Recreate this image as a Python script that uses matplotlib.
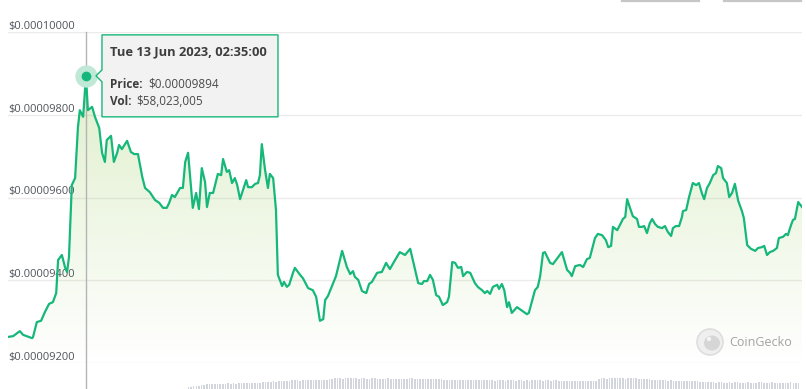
import numpy as np
import matplotlib.pyplot as plt
from matplotlib.patches import Polygon, Circle, Ellipse

# hours since the first sample (one week shown)
hours = [0.0, 1.1, 2.5, 3.2, 5.1, 5.3, 6.1, 7.0, 7.8, 8.7, 9.5, 10.2, 10.6, 11.4, 12.1, 12.5,
         12.9, 13.5, 14.2, 14.8, 15.2, 15.9, 16.5, 16.9, 17.8, 18.4, 19.3, 19.9, 20.5, 20.9,
         21.8, 22.4, 23.1, 23.5, 24.1, 25.2, 26.0, 26.7, 27.5, 28.4, 29.0, 30.0, 31.1, 32.0,
         32.8, 33.6, 34.1, 34.7, 35.3, 36.4, 37.0, 37.5, 38.1, 39.1, 39.8, 40.4, 41.0, 41.7,
         42.1, 42.7, 43.4, 44.4, 45.1, 45.5, 46.3, 46.8, 47.4, 48.0, 48.5, 49.1, 50.4, 50.8,
         51.6, 52.3, 52.9, 53.3, 53.7, 54.4, 55.0, 55.4, 56.1, 56.7, 57.1, 58.0, 58.4, 59.0,
         59.5, 60.3, 60.7, 61.8, 62.4, 63.5, 64.5, 65.2, 66.0, 66.7, 67.1, 67.7, 68.8, 69.4,
         70.7, 71.7, 72.4, 73.0, 73.4, 74.1, 74.9, 75.8, 76.4, 77.0, 78.1, 79.1, 80.0, 80.8,
         81.9, 82.9, 84.0, 85.1, 86.8, 87.6, 88.0, 88.7, 89.3, 89.9, 90.6, 91.2, 92.0, 92.9,
         93.3, 94.0, 94.6, 95.2, 95.9, 96.3, 97.1, 97.8, 98.8, 99.4, 100.3, 100.9, 101.4, 102.0,
         102.6, 103.5, 103.9, 104.5, 105.0, 105.6, 106.0, 106.6, 107.7, 109.8, 110.2, 111.5,
         112.1, 112.6, 113.2, 113.6, 114.7, 115.3, 117.2, 118.3, 118.9, 119.3, 120.0, 121.0,
         121.7, 122.5, 123.1, 124.2, 124.8, 125.7, 126.5, 127.0, 127.6, 128.0, 128.9, 129.5,
         130.1, 130.6, 131.0, 131.6, 132.2, 133.1, 133.5, 134.1, 134.6, 135.2, 135.8, 136.3,
         136.9, 137.5, 138.4, 139.0, 139.6, 140.3, 140.7, 141.3, 142.0, 142.6, 142.8, 143.5,
         144.1, 144.9, 145.6, 146.2, 146.8, 147.3, 147.9, 148.5, 149.2, 149.8, 150.2, 150.9,
         151.3, 152.1, 152.6, 153.2, 153.8, 154.5, 155.3, 155.7, 156.4, 157.2, 158.1, 158.7,
         159.5, 160.0, 160.6, 161.2, 161.9, 162.7, 163.1, 164.0, 164.6, 165.0, 165.7, 166.1,
         166.5, 167.2, 168.0]

# price in units of 1e-8 USD
price_e8 = [9263, 9265, 9277, 9268, 9260, 9263, 9299, 9302, 9323, 9343, 9347, 9369, 9449, 9461,
            9430, 9420, 9456, 9630, 9647, 9770, 9811, 9795, 9894, 9811, 9819, 9795, 9768, 9708,
            9686, 9739, 9749, 9686, 9708, 9727, 9717, 9737, 9710, 9705, 9705, 9650, 9623, 9613,
            9594, 9587, 9575, 9575, 9587, 9606, 9601, 9623, 9623, 9686, 9708, 9575, 9611, 9572,
            9671, 9637, 9577, 9611, 9611, 9657, 9654, 9693, 9662, 9666, 9635, 9647, 9630, 9596,
            9642, 9625, 9625, 9633, 9635, 9654, 9729, 9666, 9623, 9657, 9647, 9570, 9413, 9386,
            9396, 9384, 9389, 9418, 9430, 9413, 9405, 9381, 9376, 9360, 9302, 9306, 9352, 9362,
            9393, 9410, 9471, 9432, 9415, 9422, 9408, 9401, 9374, 9369, 9391, 9396, 9418, 9420,
            9442, 9427, 9449, 9468, 9461, 9476, 9393, 9391, 9398, 9398, 9413, 9401, 9364, 9360,
            9340, 9347, 9360, 9444, 9442, 9430, 9432, 9410, 9420, 9418, 9393, 9384, 9376, 9369,
            9374, 9367, 9384, 9389, 9379, 9391, 9376, 9335, 9347, 9321, 9335, 9318, 9321, 9376,
            9384, 9410, 9466, 9468, 9442, 9439, 9468, 9425, 9418, 9410, 9434, 9437, 9432, 9451,
            9454, 9502, 9512, 9509, 9497, 9480, 9483, 9529, 9521, 9534, 9548, 9553, 9596, 9575,
            9555, 9548, 9529, 9529, 9531, 9514, 9538, 9548, 9536, 9529, 9526, 9531, 9517, 9507,
            9526, 9531, 9531, 9553, 9567, 9570, 9601, 9635, 9630, 9635, 9611, 9596, 9623, 9635,
            9654, 9659, 9676, 9671, 9647, 9635, 9601, 9611, 9633, 9592, 9567, 9550, 9485, 9476,
            9471, 9478, 9480, 9483, 9461, 9468, 9471, 9478, 9502, 9505, 9512, 9509, 9534, 9546,
            9548, 9589, 9577]

# volume bars (millions USD), only the tops are visible at the bottom edge
volume_m = [30, 32, 33, 35, 35,
            40, 42, 44, 43, 45, 46, 44, 45, 47, 46, 48,
            46, 48, 47, 49, 50, 48, 50, 51, 49, 50, 52,
            52, 54, 55, 53, 56, 58, 57, 60, 62, 60, 58,
            62, 64, 63, 65, 62, 66, 64, 63, 65, 67, 64, 63, 66, 65, 64,
            70, 72, 74, 73, 75, 72, 74, 76, 73, 75, 74, 72, 75, 73, 70, 72, 74, 73, 71,
            72, 70, 71, 73, 70, 68, 71, 72, 70, 69, 71, 73, 74, 72, 70, 71, 69, 68, 70, 72, 71,
            70, 68,
            68, 66, 65, 67, 64, 66, 65, 63, 65, 66, 64, 65, 67, 63, 65, 64, 66, 65, 63, 64, 62,
            64,
            64, 63, 62, 64, 65, 63, 62, 64, 63, 61, 63, 62, 64, 63, 65, 64, 62, 63, 64, 62, 63,
            64,
            62, 60, 61, 59, 60, 62, 61, 60, 59, 61, 60, 62, 61, 60, 59,
            70, 73, 74, 72, 75, 76, 74, 73, 75, 74, 72, 73, 75, 74, 73, 72, 71, 70, 72,
            68, 67, 66, 65, 66, 64, 63, 62, 63, 61, 60, 61, 62, 60, 59, 58, 59, 60, 58,
            56, 55, 54, 55, 53, 54, 52, 53, 54, 52, 51, 53, 52, 54, 53, 52, 51, 52, 53, 52,
            51, 52, 53, 54, 52, 51, 52, 53, 52, 51, 50, 52, 51, 52, 53, 52, 51, 50]

y_ticks_e8 = [9200, 9400, 9600, 9800, 10000]
tip_date = "Tue 13 Jun 2023, 02:35:00"
tip_price = "$0.00009894"
tip_vol = "$58,023,005"

LINE = '#16b77a'
FONT = ['Open Sans', 'DejaVu Sans']
W, H = 806, 389

t = np.array(hours)
price = np.array(price_e8) * 1e-8
ymin, ymax = y_ticks_e8[0] * 1e-8, y_ticks_e8[-1] * 1e-8

fig = plt.figure(figsize=(W / 100, H / 100), dpi=100)
fig.patch.set_facecolor('white')

# volume strip at the bottom edge
vax = fig.add_axes([187 / W, 0, 613 / W, 12 / H])
vax.bar(np.arange(len(volume_m)), volume_m, width=0.62, color='#d2d5dc')
vax.set_xlim(-0.5, len(volume_m) - 0.5)
vax.set_ylim(20, 80)
vax.axis('off')

ax = fig.add_axes([8 / W, 1 - 363 / H, 794 / W, 331 / H])
ax.set_xlim(t[0], t[-1])
ax.set_ylim(ymin, ymax)
for s in ax.spines.values():
    s.set_visible(False)
ax.set_xticks([])
ax.set_yticks([v * 1e-8 for v in y_ticks_e8])
ax.tick_params(axis='y', length=0, labelleft=False)
ax.grid(axis='y', color='#ebebeb', lw=1)
ax.set_axisbelow(True)

for v in y_ticks_e8:
    ax.text(0, v * 1e-8, f"${v * 1e-8:.8f}", transform=ax.get_yaxis_transform(),
            ha='left', va='bottom', fontsize=8.0, color='#50555c', family=FONT)

# gradient fill under the line
fb = ax.fill_between(t, price, ymin, color='none', lw=0)
grad = np.zeros((256, 1, 4))
grad[:, 0, :3] = np.array([141, 198, 71]) / 255
grad[:, 0, 3] = np.linspace(0.32, 0.0, 256)
img = ax.imshow(grad, extent=[t[0], t[-1], ymin, ymax], aspect='auto', zorder=1)
img.set_clip_path(fb.get_paths()[0], ax.transData)

ax.plot(t, price, color=LINE, lw=1.6, zorder=3, solid_joinstyle='round')

# hover crosshair and marker at the peak
i_hover = int(np.argmax(price))
th, ph = t[i_hover], price[i_hover]
ax.plot([th, th], [1.0, -0.08], transform=ax.get_xaxis_transform(), color='#b4b4b4',
        lw=1, clip_on=False, zorder=2)
ax.plot(th, ph, 'o', ms=15, color='#bfe9d6', zorder=4, clip_on=False)
ax.plot(th, ph, 'o', ms=6, color=LINE, zorder=5)

# overlay in pixel coordinates for tooltip and watermark
ov = fig.add_axes([0, 0, 1, 1])
ov.set_xlim(0, W)
ov.set_ylim(H, 0)
ov.axis('off')
ov.patch.set_alpha(0)

fig.canvas.draw()
dx, dy = ax.transData.transform((th, ph))
px, py = dx, H - dy

bx0, bx1 = px + 16, px + 192
by0, by1 = py - 41, py + 41
box = Polygon([(bx0, by0), (bx1, by0), (bx1, by1), (bx0, by1), (bx0, py + 6),
               (bx0 - 6, py), (bx0, py - 6)], closed=True, facecolor='#f2f2f2',
              edgecolor=LINE, lw=1, zorder=10)
ov.add_patch(box)
ov.text(bx0 + 8, by0 + 17.5, tip_date, fontsize=9.3, fontweight='bold', color='#3d3d3d',
        va='center', ha='left', family=FONT, zorder=11)
ov.text(bx0 + 8, py + 8.5, "Price:", fontsize=8.5, fontweight='bold', color='#3d3d3d',
        va='center', ha='left', family=FONT, zorder=11)
ov.text(bx0 + 46, py + 8.5, tip_price, fontsize=8.5, color='#4a4a4a',
        va='center', ha='left', family=FONT, zorder=11)
ov.text(bx0 + 8, py + 25.5, "Vol:", fontsize=8.5, fontweight='bold', color='#3d3d3d',
        va='center', ha='left', family=FONT, zorder=11)
ov.text(bx0 + 34, py + 25.5, tip_vol, fontsize=8.5, color='#4a4a4a',
        va='center', ha='left', family=FONT, zorder=11)

# CoinGecko watermark
ov.add_patch(Circle((710, 342), 13, facecolor='#efefef', edgecolor='#dedede', lw=1.2, zorder=6))
ov.add_patch(Ellipse((712, 343), 16, 15, facecolor='#d6d6d6', edgecolor='none', zorder=7))
ov.add_patch(Circle((709, 339), 2.2, facecolor='#f4f4f4', edgecolor='none', zorder=8))
ov.text(729, 343, "CoinGecko", fontsize=9.0, color='#a2a2a2', va='center', ha='left',
        family=FONT, zorder=7)

# button edges peeking in at the top right
ov.plot([622, 699], [0.8, 0.8], color='#c6c6c6', lw=1.6)
ov.plot([724, 801], [0.8, 0.8], color='#c6c6c6', lw=1.6)

fig.savefig('out.png', dpi=100)
